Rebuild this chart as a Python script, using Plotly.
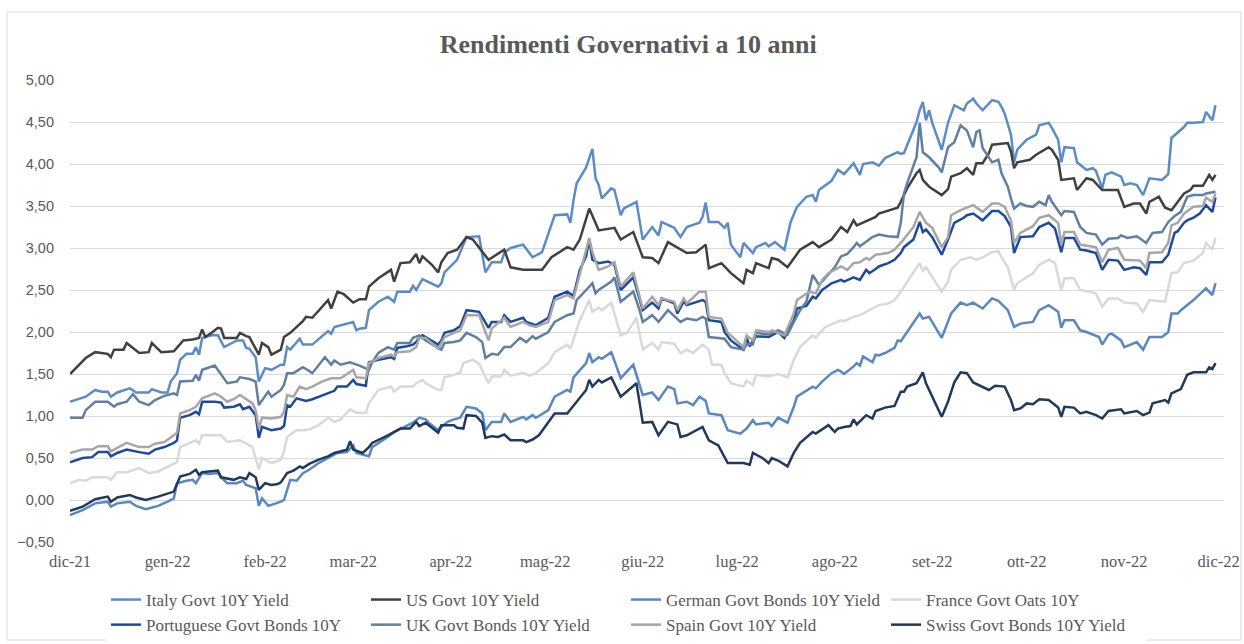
import pandas as pd
import plotly.graph_objects as go

# ---- data: (days since 2021-12-01, yield %) ----
START = pd.Timestamp("2021-12-01")

italy = [(0,1.17),(5,1.23),(8,1.31),(10,1.29),(12,1.29),(13,1.23),(15,1.28),(19,1.33),(21,1.28),(25,1.28),(26,1.32),(29,1.28),(31,1.28),(32,1.41),(34,1.51),(35,1.67),(37,1.74),(39,1.74),(40,1.82),(41,1.73),(42,1.93),(45,1.96),(47,1.96),(49,1.82),(53,1.90),(55,1.90),(56,1.81),(57,1.80),(59,1.70),(60,1.41),(62,1.57),(64,1.55),(67,1.61),(68,1.61),(69,1.82),(70,1.79),(73,1.92),(74,1.85),(77,1.85),(82,2.01),(83,1.98),(84,2.06),(90,2.12),(91,2.02),(92,2.04),(94,2.05),(95,2.26),(98,2.36),(101,2.42),(103,2.36),(104,2.48),(108,2.48),(109,2.55),(110,2.50),(112,2.63),(117,2.54),(118,2.58),(119,2.71),(123,2.86),(126,3.13),(130,3.14),(132,2.71),(134,2.83),(137,2.83),(138,2.94),(140,3.00),(144,3.04),(147,2.89),(150,2.95),(154,3.39),(158,3.40),(159,3.30),(160,3.57),(161,3.77),(164,3.96),(166,4.18),(167,3.83),(168,3.75),(169,3.59),(172,3.71),(173,3.69),(175,3.39),(176,3.47),(180,3.55),(182,3.10),(185,3.25),(187,3.15),(188,3.31),(192,3.24),(194,3.13),(196,3.25),(200,3.30),(201,3.37),(202,3.54),(203,3.31),(206,3.31),(208,3.24),(209,3.30),(210,3.04),(213,2.89),(214,3.06),(217,2.94),(218,3.01),(221,3.06),(222,3.02),(224,3.07),(227,2.98),(229,3.31),(231,3.49),(234,3.61),(236,3.63),(237,3.55),(238,3.69),(242,3.80),(244,3.93),(246,3.88),(249,4.01),(251,3.87),(252,4.00),(255,4.02),(257,3.98),(259,4.07),(263,4.14),(264,4.12),(265,4.13),(268,4.40),(269,4.50),(270,4.64),(271,4.74),(272,4.52),(273,4.64),(274,4.49),(277,4.17),(279,4.49),(281,4.70),(284,4.64),(285,4.72),(287,4.78),(288,4.72),(290,4.64),(293,4.76),(295,4.74),(296,4.68),(297,4.60),(299,4.35),(300,4.02),(301,4.17),(304,4.29),(307,4.35),(308,4.46),(311,4.49),(312,4.43),(314,4.29),(315,4.02),(316,4.20),(319,4.19),(320,4.02),(323,3.93),(325,3.95),(326,3.92),(328,3.71),(329,3.87),(331,3.90),(334,3.85),(335,3.75),(337,3.77),(339,3.75),(341,3.63),(343,3.83),(347,3.81),(349,3.88),(350,4.31),(352,4.38),(354,4.44),(355,4.49),(357,4.49),(360,4.50),(361,4.62),(363,4.52),(364,4.70)]

us = [(0,1.50),(5,1.69),(8,1.76),(12,1.74),(13,1.70),(14,1.79),(17,1.79),(18,1.87),(22,1.75),(25,1.76),(26,1.87),(29,1.76),(33,1.77),(36,1.90),(39,1.91),(41,1.93),(42,2.03),(43,1.94),(45,1.99),(47,2.05),(48,2.04),(49,1.93),(53,1.93),(54,1.99),(56,1.95),(57,1.94),(60,1.73),(61,1.87),(63,1.82),(64,1.73),(67,1.79),(68,1.94),(70,1.99),(74,2.13),(75,2.18),(77,2.17),(82,2.38),(83,2.28),(85,2.48),(87,2.45),(90,2.35),(92,2.39),(94,2.39),(95,2.54),(98,2.64),(102,2.74),(103,2.60),(105,2.82),(108,2.83),(110,2.93),(111,2.82),(112,2.90),(115,2.80),(117,2.71),(118,2.83),(120,2.94),(123,2.98),(126,3.13),(128,3.10),(130,3.00),(133,2.86),(138,2.98),(140,2.77),(144,2.74),(150,2.74),(153,2.89),(158,3.01),(160,2.98),(162,3.10),(165,3.47),(168,3.21),(173,3.24),(175,3.10),(179,3.19),(182,2.89),(185,2.88),(187,2.82),(190,3.07),(196,2.94),(199,2.95),(202,3.04),(203,2.76),(207,2.82),(210,2.70),(214,2.58),(215,2.74),(217,2.70),(218,2.82),(222,2.76),(223,2.88),(225,2.86),(228,2.77),(230,2.88),(232,2.98),(236,3.07),(238,3.01),(242,3.10),(245,3.25),(247,3.19),(249,3.33),(250,3.27),(256,3.37),(257,3.41),(263,3.48),(264,3.55),(266,3.71),(269,3.89),(270,3.93),(271,3.81),(273,3.73),(277,3.63),(279,3.70),(280,3.85),(283,3.89),(285,3.95),(287,3.87),(288,4.01),(290,4.01),(292,4.13),(293,4.23),(298,4.25),(299,4.15),(300,3.95),(301,4.02),(305,4.05),(307,4.11),(311,4.20),(312,4.17),(314,4.05),(315,3.81),(319,3.83),(320,3.69),(323,3.83),(325,3.81),(328,3.69),(333,3.69),(335,3.49),(338,3.53),(340,3.53),(342,3.41),(343,3.55),(346,3.61),(348,3.48),(350,3.45),(354,3.65),(356,3.69),(357,3.74),(360,3.74),(362,3.87),(363,3.81),(364,3.87)]

german = [(0,-0.18),(4,-0.12),(8,-0.04),(12,-0.02),(13,-0.08),(15,-0.04),(19,-0.02),(21,-0.07),(24,-0.11),(28,-0.07),(31,-0.02),(33,0.02),(34,0.20),(37,0.23),(39,0.24),(40,0.20),(42,0.32),(44,0.31),(47,0.32),(48,0.27),(50,0.20),(53,0.20),(55,0.23),(56,0.18),(59,0.14),(60,-0.07),(61,0.02),(63,-0.07),(67,-0.02),(68,0.00),(69,0.12),(70,0.24),(72,0.23),(74,0.32),(76,0.36),(79,0.44),(82,0.50),(85,0.56),(88,0.57),(90,0.65),(91,0.56),(95,0.52),(96,0.63),(101,0.75),(103,0.81),(105,0.85),(109,0.92),(111,0.98),(113,0.96),(114,0.92),(117,0.83),(118,0.87),(120,0.93),(122,0.96),(124,0.98),(126,1.11),(129,1.09),(131,1.03),(132,0.83),(134,0.93),(137,0.93),(138,1.03),(140,0.93),(144,0.99),(145,0.96),(147,1.01),(148,0.98),(149,1.00),(152,1.07),(154,1.23),(158,1.31),(159,1.29),(160,1.46),(164,1.63),(165,1.75),(166,1.64),(168,1.70),(169,1.68),(172,1.76),(175,1.45),(179,1.61),(182,1.25),(185,1.28),(187,1.19),(190,1.35),(192,1.32),(193,1.15),(196,1.17),(198,1.13),(200,1.23),(202,1.18),(203,1.03),(207,1.01),(209,0.83),(213,0.79),(215,0.85),(217,0.95),(218,0.90),(222,0.92),(223,0.88),(225,0.98),(228,0.92),(230,1.11),(231,1.23),(236,1.35),(237,1.33),(239,1.41),(242,1.51),(244,1.55),(245,1.53),(246,1.50),(249,1.59),(250,1.63),(251,1.60),(252,1.71),(255,1.64),(256,1.73),(257,1.72),(259,1.75),(262,1.81),(263,1.90),(264,1.89),(266,2.00),(270,2.22),(271,2.16),(273,2.18),(277,1.93),(280,2.22),(283,2.35),(285,2.32),(287,2.35),(290,2.28),(293,2.40),(295,2.37),(298,2.26),(300,2.06),(302,2.10),(306,2.12),(308,2.26),(311,2.32),(314,2.24),(315,2.05),(316,2.14),(319,2.14),(321,2.02),(323,2.00),(327,1.94),(328,1.85),(330,1.97),(331,1.98),(334,1.90),(335,1.82),(337,1.85),(339,1.88),(341,1.79),(343,1.94),(347,1.94),(349,2.00),(350,2.22),(352,2.22),(353,2.26),(355,2.32),(357,2.38),(361,2.52),(363,2.44),(364,2.58)]

france = [(0,0.20),(3,0.24),(5,0.23),(7,0.27),(12,0.27),(13,0.24),(15,0.33),(18,0.33),(22,0.38),(25,0.32),(28,0.34),(31,0.40),(33,0.44),(34,0.45),(35,0.63),(39,0.69),(40,0.71),(41,0.67),(42,0.77),(46,0.77),(48,0.77),(50,0.69),(54,0.71),(56,0.67),(58,0.63),(60,0.36),(61,0.50),(64,0.44),(67,0.48),(68,0.58),(69,0.75),(72,0.83),(74,0.83),(76,0.84),(79,0.89),(82,0.98),(84,0.93),(86,0.96),(89,1.08),(91,1.04),(94,1.04),(95,1.15),(98,1.31),(102,1.35),(103,1.29),(105,1.35),(109,1.35),(110,1.39),(112,1.43),(113,1.39),(117,1.31),(118,1.31),(119,1.46),(122,1.49),(124,1.52),(125,1.63),(128,1.67),(130,1.62),(133,1.39),(134,1.47),(137,1.47),(138,1.55),(140,1.48),(144,1.51),(146,1.48),(148,1.51),(152,1.63),(154,1.76),(158,1.85),(159,1.80),(162,2.14),(165,2.38),(166,2.24),(168,2.29),(169,2.26),(172,2.35),(175,1.96),(177,1.99),(180,2.17),(182,1.79),(185,1.87),(187,1.79),(188,1.88),(192,1.86),(194,1.75),(196,1.79),(198,1.75),(201,1.85),(203,1.79),(204,1.61),(207,1.61),(208,1.51),(210,1.39),(214,1.35),(215,1.42),(217,1.37),(218,1.49),(222,1.47),(225,1.50),(228,1.46),(230,1.67),(232,1.82),(236,1.96),(237,1.93),(240,2.06),(245,2.14),(246,2.13),(249,2.18),(251,2.20),(252,2.22),(257,2.32),(260,2.34),(262,2.38),(264,2.48),(266,2.60),(268,2.71),(270,2.82),(271,2.73),(272,2.77),(274,2.65),(277,2.48),(279,2.60),(280,2.74),(283,2.86),(286,2.89),(288,2.86),(290,2.89),(293,2.95),(295,2.96),(296,2.89),(298,2.77),(300,2.50),(301,2.58),(306,2.70),(308,2.80),(311,2.86),(313,2.82),(315,2.50),(316,2.64),(319,2.64),(321,2.50),(326,2.46),(328,2.30),(330,2.40),(333,2.40),(335,2.35),(339,2.34),(341,2.24),(343,2.38),(348,2.36),(349,2.54),(350,2.70),(352,2.71),(354,2.82),(357,2.85),(360,2.94),(361,3.06),(363,2.98),(364,3.12)]

portugal = [(0,0.45),(4,0.50),(7,0.51),(9,0.57),(12,0.57),(13,0.52),(15,0.56),(18,0.60),(22,0.57),(25,0.55),(27,0.60),(30,0.63),(33,0.68),(34,0.71),(35,0.98),(38,1.01),(40,1.05),(41,1.02),(42,1.17),(46,1.17),(48,1.16),(49,1.10),(52,1.11),(54,1.14),(55,1.08),(57,1.11),(59,1.01),(60,0.74),(61,0.87),(64,0.83),(67,0.85),(68,0.88),(69,1.13),(70,1.11),(72,1.21),(75,1.18),(77,1.20),(82,1.27),(84,1.30),(85,1.35),(88,1.35),(90,1.43),(91,1.38),(94,1.36),(95,1.64),(98,1.67),(102,1.70),(103,1.68),(104,1.81),(107,1.83),(109,1.85),(110,1.88),(111,1.93),(112,1.96),(115,1.89),(117,1.85),(118,1.90),(119,1.99),(122,2.02),(124,2.07),(126,2.26),(130,2.24),(133,2.05),(134,2.12),(137,2.12),(138,2.20),(140,2.12),(144,2.17),(145,2.12),(148,2.08),(152,2.17),(154,2.42),(158,2.48),(160,2.43),(162,2.74),(164,2.90),(165,3.10),(166,2.86),(168,2.82),(171,2.84),(173,2.80),(175,2.50),(179,2.65),(182,2.26),(185,2.35),(187,2.28),(188,2.40),(192,2.34),(193,2.22),(195,2.36),(196,2.32),(201,2.38),(202,2.36),(203,2.14),(207,2.12),(208,2.00),(210,1.90),(214,1.79),(215,1.93),(216,1.83),(218,1.95),(222,1.94),(223,1.96),(225,2.00),(227,1.93),(230,2.14),(231,2.28),(234,2.31),(236,2.42),(237,2.40),(239,2.50),(242,2.58),(245,2.62),(246,2.60),(249,2.65),(251,2.62),(253,2.74),(254,2.70),(256,2.75),(257,2.78),(260,2.82),(262,2.86),(264,2.94),(265,3.01),(268,3.10),(270,3.31),(271,3.19),(272,3.22),(274,3.13),(277,2.92),(279,3.10),(281,3.30),(284,3.36),(285,3.39),(287,3.41),(288,3.38),(290,3.33),(293,3.44),(295,3.44),(297,3.38),(299,3.25),(300,2.94),(302,3.13),(306,3.14),(308,3.25),(311,3.30),(313,3.23),(315,2.95),(316,3.12),(319,3.12),(321,2.98),(323,2.97),(326,2.94),(328,2.74),(330,2.86),(333,2.85),(335,2.74),(338,2.77),(340,2.76),(342,2.68),(343,2.83),(347,2.83),(349,2.92),(351,3.18),(352,3.20),(354,3.30),(355,3.33),(357,3.36),(359,3.41),(361,3.51),(363,3.43),(364,3.60)]

uk = [(0,0.98),(4,0.98),(5,1.07),(6,1.10),(8,1.17),(12,1.17),(14,1.11),(15,1.14),(18,1.17),(20,1.26),(22,1.17),(25,1.13),(27,1.19),(30,1.24),(33,1.27),(34,1.25),(35,1.41),(39,1.42),(40,1.49),(41,1.42),(42,1.55),(46,1.60),(48,1.49),(50,1.39),(53,1.41),(54,1.46),(57,1.44),(59,1.41),(60,1.13),(63,1.29),(64,1.23),(67,1.31),(68,1.37),(69,1.51),(71,1.51),(74,1.58),(75,1.56),(77,1.51),(81,1.70),(83,1.61),(84,1.66),(86,1.61),(89,1.64),(92,1.60),(95,1.55),(96,1.64),(98,1.75),(101,1.82),(103,1.79),(104,1.87),(108,1.87),(109,1.93),(111,1.96),(113,1.90),(118,1.79),(119,1.87),(122,1.88),(124,1.90),(126,1.99),(129,1.94),(131,1.88),(132,1.69),(134,1.74),(136,1.73),(138,1.82),(140,1.82),(143,1.93),(145,1.88),(147,1.95),(148,1.92),(149,1.94),(152,2.00),(154,2.12),(158,2.20),(160,2.22),(161,2.38),(164,2.50),(166,2.58),(167,2.46),(168,2.50),(172,2.60),(173,2.65),(175,2.36),(179,2.48),(181,2.26),(182,2.12),(185,2.20),(187,2.12),(190,2.26),(194,2.12),(196,2.16),(199,2.14),(201,2.18),(202,2.16),(203,1.94),(208,1.92),(210,1.82),(214,1.79),(215,1.85),(217,1.85),(218,1.99),(222,1.97),(225,2.02),(228,1.97),(230,2.12),(232,2.26),(234,2.36),(236,2.68),(238,2.56),(241,2.68),(243,2.77),(245,2.90),(247,2.93),(249,3.01),(250,3.06),(251,3.02),(255,3.13),(257,3.16),(260,3.14),(263,3.13),(264,3.30),(265,3.65),(266,3.77),(269,4.08),(270,4.49),(271,4.14),(273,4.08),(276,3.96),(277,3.90),(279,4.20),(281,4.26),(283,4.46),(285,4.40),(287,4.20),(288,4.38),(289,4.40),(290,4.19),(293,4.02),(295,4.05),(296,3.89),(298,3.73),(299,3.59),(300,3.47),(302,3.53),(304,3.50),(306,3.49),(308,3.55),(310,3.51),(311,3.63),(312,3.55),(315,3.39),(316,3.44),(319,3.43),(321,3.25),(323,3.18),(326,3.16),(328,3.04),(330,3.11),(333,3.12),(334,3.15),(336,3.12),(339,3.14),(342,3.06),(344,3.18),(347,3.19),(349,3.31),(351,3.38),(353,3.43),(355,3.61),(357,3.63),(360,3.63),(361,3.65),(364,3.67)]

spain = [(0,0.56),(4,0.60),(7,0.60),(9,0.64),(12,0.64),(13,0.58),(15,0.62),(18,0.68),(22,0.63),(25,0.63),(27,0.67),(30,0.69),(33,0.77),(34,0.80),(35,1.03),(38,1.07),(40,1.11),(42,1.21),(46,1.27),(48,1.23),(50,1.17),(52,1.20),(54,1.25),(56,1.20),(58,1.15),(59,1.07),(60,0.85),(61,0.98),(64,0.97),(67,0.99),(68,1.05),(69,1.25),(71,1.23),(73,1.35),(75,1.32),(77,1.35),(80,1.41),(83,1.45),(86,1.45),(90,1.55),(91,1.46),(94,1.45),(95,1.63),(98,1.69),(102,1.73),(103,1.71),(104,1.76),(108,1.77),(110,1.82),(111,1.93),(113,1.93),(117,1.80),(119,1.94),(122,1.99),(124,2.02),(126,2.20),(130,2.20),(133,1.90),(134,2.04),(138,2.17),(140,2.06),(144,2.12),(146,2.08),(148,2.06),(152,2.12),(154,2.38),(158,2.44),(160,2.40),(162,2.70),(165,3.12),(166,2.95),(168,2.74),(171,2.78),(173,2.83),(175,2.54),(179,2.71),(182,2.28),(185,2.42),(187,2.32),(188,2.40),(192,2.36),(193,2.26),(195,2.40),(196,2.34),(200,2.48),(202,2.48),(203,2.18),(207,2.16),(209,1.99),(210,1.96),(214,1.82),(215,1.96),(217,1.90),(218,2.02),(222,2.00),(223,2.02),(227,1.96),(230,2.22),(231,2.38),(235,2.48),(237,2.46),(239,2.62),(241,2.70),(245,2.78),(247,2.74),(249,2.82),(251,2.83),(253,2.88),(254,2.86),(256,2.92),(260,2.94),(262,2.98),(264,3.06),(266,3.15),(268,3.25),(270,3.43),(272,3.30),(274,3.24),(277,3.01),(279,3.13),(280,3.39),(283,3.45),(285,3.48),(287,3.51),(290,3.43),(293,3.53),(295,3.53),(297,3.49),(299,3.33),(300,3.06),(302,3.18),(306,3.26),(308,3.36),(311,3.39),(314,3.30),(315,3.04),(316,3.19),(319,3.19),(321,3.04),(326,3.01),(328,2.83),(330,2.98),(333,3.00),(335,2.86),(340,2.85),(342,2.76),(343,2.94),(347,2.95),(349,3.06),(350,3.27),(352,3.30),(354,3.41),(357,3.49),(360,3.50),(361,3.60),(363,3.55),(364,3.65)]

swiss = [(0,-0.13),(4,-0.08),(8,0.01),(12,0.04),(13,-0.02),(15,0.03),(19,0.06),(21,0.03),(24,0.00),(28,0.04),(33,0.10),(35,0.28),(38,0.31),(40,0.36),(41,0.30),(42,0.33),(47,0.35),(48,0.27),(52,0.24),(54,0.27),(56,0.25),(57,0.32),(59,0.27),(60,0.12),(62,0.20),(64,0.18),(66,0.19),(67,0.21),(69,0.32),(71,0.35),(73,0.40),(74,0.38),(76,0.43),(79,0.48),(82,0.52),(84,0.56),(88,0.60),(89,0.70),(90,0.60),(93,0.56),(95,0.63),(96,0.68),(101,0.77),(103,0.81),(105,0.85),(108,0.85),(110,0.93),(111,0.88),(113,0.92),(117,0.80),(118,0.89),(120,0.89),(122,0.89),(123,0.86),(125,0.85),(126,1.01),(129,1.00),(131,0.92),(132,0.74),(134,0.76),(136,0.75),(138,0.78),(140,0.71),(144,0.71),(145,0.69),(147,0.72),(149,0.77),(154,1.03),(158,1.03),(164,1.31),(165,1.43),(166,1.35),(168,1.43),(169,1.40),(172,1.46),(175,1.23),(180,1.39),(182,0.92),(185,0.93),(187,0.77),(190,0.93),(193,0.90),(194,0.75),(196,0.77),(201,0.87),(203,0.71),(206,0.65),(209,0.44),(214,0.44),(216,0.42),(217,0.56),(220,0.50),(222,0.44),(223,0.50),(225,0.47),(228,0.40),(230,0.56),(232,0.68),(236,0.81),(237,0.79),(241,0.89),(243,0.81),(244,0.85),(246,0.87),(248,0.88),(249,0.96),(250,0.90),(253,1.01),(255,0.97),(256,1.06),(259,1.10),(262,1.12),(264,1.29),(265,1.29),(266,1.35),(269,1.39),(271,1.52),(272,1.39),(277,0.99),(279,1.17),(281,1.40),(283,1.52),(285,1.51),(287,1.40),(291,1.33),(292,1.31),(294,1.36),(297,1.35),(299,1.19),(300,1.07),(302,1.09),(304,1.15),(306,1.14),(308,1.20),(311,1.19),(314,1.10),(315,0.99),(316,1.11),(319,1.10),(321,1.03),(323,1.05),(326,1.01),(328,0.97),(330,1.06),(334,1.08),(335,1.03),(339,1.06),(341,1.01),(343,1.04),(344,1.15),(348,1.19),(349,1.16),(350,1.27),(353,1.32),(355,1.49),(357,1.52),(361,1.52),(362,1.58),(363,1.56),(364,1.63)]

SERIES_NAMES = ["Italy Govt 10Y Yield", "US Govt 10Y Yield", "German Govt Bonds 10Y Yield",
                "France Govt Oats 10Y", "Portuguese Govt Bonds 10Y", "UK Govt Bonds 10Y Yield",
                "Spain Govt 10Y Yield", "Swiss Govt Bonds 10Y Yield"]
SERIES_DATA = [italy, us, german, france, portugal, uk, spain, swiss]

MONTH_LABELS = ["dic-21", "gen-22", "feb-22", "mar-22", "apr-22", "mag-22", "giu-22",
                "lug-22", "ago-22", "set-22", "ott-22", "nov-22", "dic-22"]
Y_TICKS = [-0.5, 0.0, 0.5, 1.0, 1.5, 2.0, 2.5, 3.0, 3.5, 4.0, 4.5, 5.0]

# ---- styling ----
COLORS = ["#5B8CC8", "#404040", "#5A87C2", "#D9D9D9", "#1C4B9C", "#5F7FA5", "#A6A6A6", "#1F3A5C"]
GRID = "#D9D9D9"
TEXT = "#595959"
SERIF = "Liberation Serif, Times New Roman, serif"
SANS = "Liberation Sans, Arial, sans-serif"

W, H = 1244, 644
ML, MR, MT, MB = 70, 20, 80, 102

fig = go.Figure()
for name, data, color in zip(SERIES_NAMES, SERIES_DATA, COLORS):
    days = [d for d, _ in data]
    vals = [v for _, v in data]
    dates = START + pd.to_timedelta(days, unit="D")
    fig.add_trace(go.Scatter(x=dates, y=vals, mode="lines", name=name,
                             line=dict(color=color, width=2.5)))

month_dates = pd.date_range(START, periods=len(MONTH_LABELS), freq="MS")
x_end = START + pd.Timedelta(days=366.7)

fig.update_layout(
    width=W, height=H,
    margin=dict(l=ML, r=MR, t=MT, b=MB, autoexpand=False),
    paper_bgcolor="white", plot_bgcolor="white",
    separators=",.",
    title=dict(text="<b>Rendimenti Governativi a 10 anni</b>", x=0.505, xanchor="center",
               y=1 - 44 / H, yanchor="middle",
               font=dict(family=SERIF, size=26, color=TEXT)),
    xaxis=dict(type="date", range=[START, x_end], tickvals=month_dates, ticktext=MONTH_LABELS,
               showgrid=False, zeroline=False, showline=False, ticks="",
               ticklabelstandoff=7,
               tickfont=dict(family=SERIF, size=16.5, color=TEXT)),
    yaxis=dict(range=[-0.5, 5.0], tickvals=Y_TICKS, tickformat=".2f",
               showgrid=True, gridcolor=GRID, gridwidth=1, zeroline=False,
               showline=False, ticks="", ticklabelstandoff=15,
               tickfont=dict(family=SANS, size=14.5, color=TEXT)),
    legend=dict(orientation="h", x=(106 - ML) / (W - ML - MR), xanchor="left",
                yref="container", y=1 - 582 / H, yanchor="top",
                entrywidth=215, entrywidthmode="pixels", tracegroupgap=0,
                font=dict(family=SERIF, size=17, color=TEXT), itemwidth=30),
    showlegend=True,
)

# light frame around the chart area
pw, ph = W - ML - MR, H - MT - MB
fig.add_shape(type="rect", xref="paper", yref="paper",
              x0=(7 - ML) / pw, x1=(1241 - ML) / pw,
              y0=(H - MB - 640) / ph, y1=(H - MB - 12) / ph,
              line=dict(color=GRID, width=1), fillcolor="rgba(0,0,0,0)", layer="below")

fig.write_html("out.html", config={"displayModeBar": False},
               post_script="document.body.style.margin='0';document.body.style.overflow='hidden';")
